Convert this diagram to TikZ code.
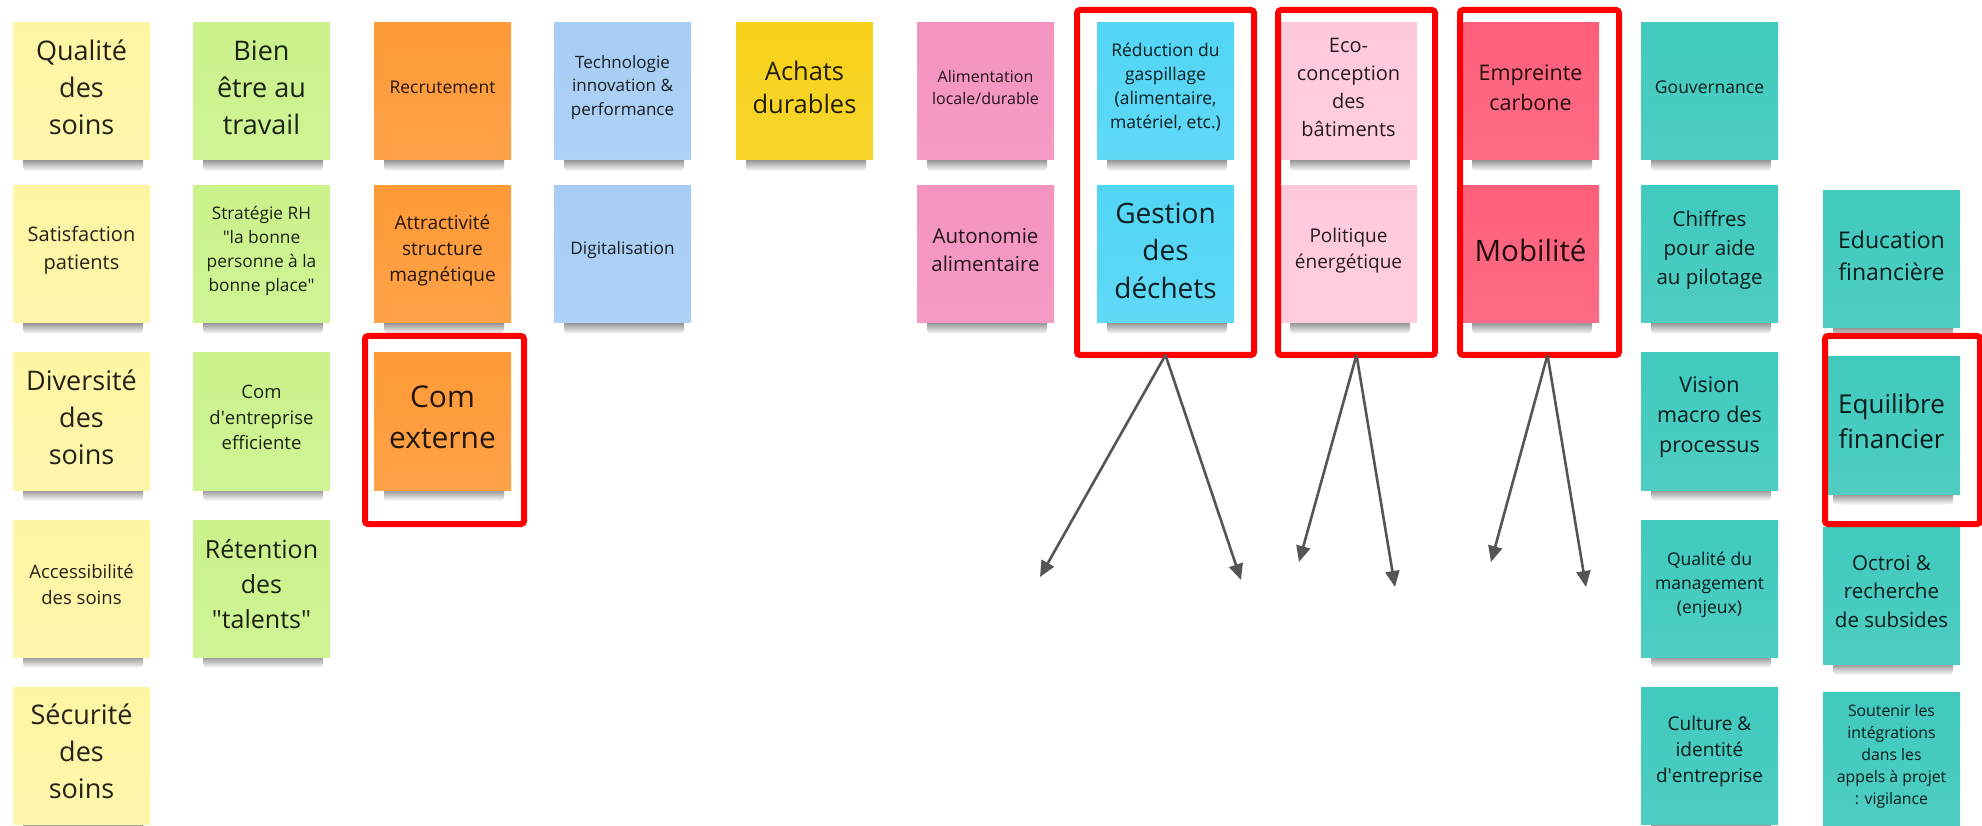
\documentclass[tikz,border=0pt]{standalone}
\usepackage{fontspec}
\setmainfont{Open Sans}
\usetikzlibrary{arrows.meta,calc}

\definecolor{cYel}{HTML}{FEF5A4}
\definecolor{cGrn}{HTML}{CBF28C}
\definecolor{cOra}{HTML}{FF9A38}
\definecolor{cBlu}{HTML}{A7CDF5}
\definecolor{cGold}{HTML}{F7D21A}
\definecolor{cPnk}{HTML}{F493C0}
\definecolor{cCya}{HTML}{52D5F5}
\definecolor{cLpk}{HTML}{FFC9DC}
\definecolor{cRed}{HTML}{FD5F7A}
\definecolor{cTea}{HTML}{40C9BD}
\definecolor{cArr}{HTML}{555555}
\definecolor{cBox}{HTML}{FF0000}

% #1 name, #2 left x, #3 top y, #4 colour, #5 font size, #6 line pitch, #7 text
\newcommand\sticky[7]{%
  \shade[top color=black!60, bottom color=white, rounded corners=4pt] ({#2+10},{#3+132}) rectangle ({#2+130},{#3+148});
  \node[note, top color=#4, bottom color=#4!92!white] (#1) at ({#2+68.5},{#3+68.5}) {};
  \node[ntext, text=#4!14!black, font=\fontsize{#5}{#6}\selectfont] (#1t) at ([yshift=4pt]#1.center) {#7};
}

\begin{document}
\begin{tikzpicture}[x=1pt,y=-1pt,
  note/.style={minimum width=137pt, minimum height=137pt, inner sep=0pt, outer sep=0pt},
  ntext/.style={align=center, inner sep=0pt},
  rbox/.style={draw=cBox, line width=6pt, rounded corners=3pt, inner sep=0pt, outer sep=0pt},
  conn/.style={draw=cArr, line width=2.6pt, -{Triangle[length=16pt,width=14pt]}}
]
\fill[white] (0,0) rectangle (1982,826);
\useasboundingbox (0,0) rectangle (1982,826);

% yellow column
\sticky{y1}{13}{23}{cYel}{27}{37}{Qualité\\des\\soins}
\sticky{y2}{13}{186}{cYel}{20}{28}{Satisfaction\\patients}
\sticky{y3}{13}{353}{cYel}{27}{37}{Diversité\\des\\soins}
\sticky{y4}{13}{520}{cYel}{18.5}{26}{Accessibilité\\des soins}
\sticky{y5}{13}{687}{cYel}{27}{37}{Sécurité\\des\\soins}
% green column
\sticky{g1}{193}{23}{cGrn}{27}{37}{Bien\\être au\\travail}
\sticky{g2}{193}{186}{cGrn}{17.3}{24}{Stratégie RH\\\textquotedbl la bonne\\personne à la\\bonne place\textquotedbl}
\sticky{g3}{193}{353}{cGrn}{18.5}{25.5}{Com\\d\textquotesingle entreprise\\efficiente}
\sticky{g4}{193}{520}{cGrn}{25}{35}{Rétention\\des\\\textquotedbl talents\textquotedbl}
% orange column
\sticky{o1}{374}{23}{cOra}{17.5}{24}{Recrutement}
\sticky{o2}{374}{186}{cOra}{19}{26}{Attractivité\\structure\\magnétique}
\sticky{o3}{374}{353}{cOra}{30}{41}{Com\\externe}
% light blue column
\sticky{lb1}{554}{23}{cBlu}{17}{23.5}{Technologie\\innovation \&\\performance}
\sticky{lb2}{554}{186}{cBlu}{17.2}{24}{Digitalisation}
% gold
\sticky{ach}{736}{23}{cGold}{25.5}{33}{Achats\\durables}
% pink column
\sticky{p1}{917}{23}{cPnk}{16}{22}{Alimentation\\locale/durable}
\sticky{p2}{917}{186}{cPnk}{20.5}{28}{Autonomie\\alimentaire}
% cyan column
\sticky{c1}{1097}{23}{cCya}{17.5}{24}{Réduction du\\gaspillage\\(alimentaire,\\matériel, etc.)}
\sticky{c2}{1097}{186}{cCya}{28}{37.5}{Gestion\\des\\déchets}
% light pink column
\sticky{lp1}{1280}{23}{cLpk}{20}{28}{Eco-\\conception\\des\\bâtiments}
\sticky{lp2}{1280}{186}{cLpk}{19}{26}{Politique\\énergétique}
% red column
\sticky{r1}{1462}{23}{cRed}{21.5}{30}{Empreinte\\carbone}
\sticky{r2}{1462}{186}{cRed}{29.5}{40}{Mobilité}
% teal column 1
\sticky{t1}{1641}{23}{cTea}{17.5}{24}{Gouvernance}
\sticky{t2}{1641}{186}{cTea}{20.5}{29}{Chiffres\\pour aide\\au pilotage}
\sticky{t3}{1641}{353}{cTea}{21.5}{30}{Vision\\macro des\\processus}
\sticky{t4}{1641}{520}{cTea}{17.5}{24}{Qualité du\\management\\(enjeux)}
\sticky{t5}{1641}{687}{cTea}{19}{26}{Culture \&\\identité\\d\textquotesingle entreprise}
% teal column 2
\sticky{u2}{1823}{191}{cTea}{23}{32}{Education\\financière}
\sticky{u3}{1823}{357}{cTea}{26}{35}{Equilibre\\financier}
\sticky{u4}{1823}{527}{cTea}{20.5}{28.5}{Octroi \&\\recherche\\de subsides}
\sticky{u5}{1823}{692}{cTea}{15.8}{22}{Soutenir les\\intégrations\\dans les\\appels à projet\\: vigilance}

% red frames
\node[rbox, minimum width=159pt, minimum height=188pt] (bxCom) at (444.5,430) {};
\node[rbox, minimum width=177pt, minimum height=345pt] (bx1) at (1165.5,182.5) {};
\node[rbox, minimum width=157pt, minimum height=345pt] (bx2) at (1356.5,182.5) {};
\node[rbox, minimum width=159pt, minimum height=345pt] (bx3) at (1539.5,182.5) {};
\node[rbox, minimum width=155pt, minimum height=188pt] (bx4) at (1902.5,430) {};

% arrow ends
\coordinate (a1L) at (1040,577);
\coordinate (a1R) at (1241,580);
\coordinate (a2L) at (1299,562);
\coordinate (a2R) at (1395,587);
\coordinate (a3L) at (1491,562);
\coordinate (a3R) at (1586,587);

\draw[conn] (bx1.south) -- (a1L);
\draw[conn] (bx1.south) -- (a1R);
\draw[conn] (bx2.south) -- (a2L);
\draw[conn] (bx2.south) -- (a2R);
\draw[conn] ([xshift=8pt]bx3.south) -- (a3L);
\draw[conn] ([xshift=8pt]bx3.south) -- (a3R);
\end{tikzpicture}
\end{document}
